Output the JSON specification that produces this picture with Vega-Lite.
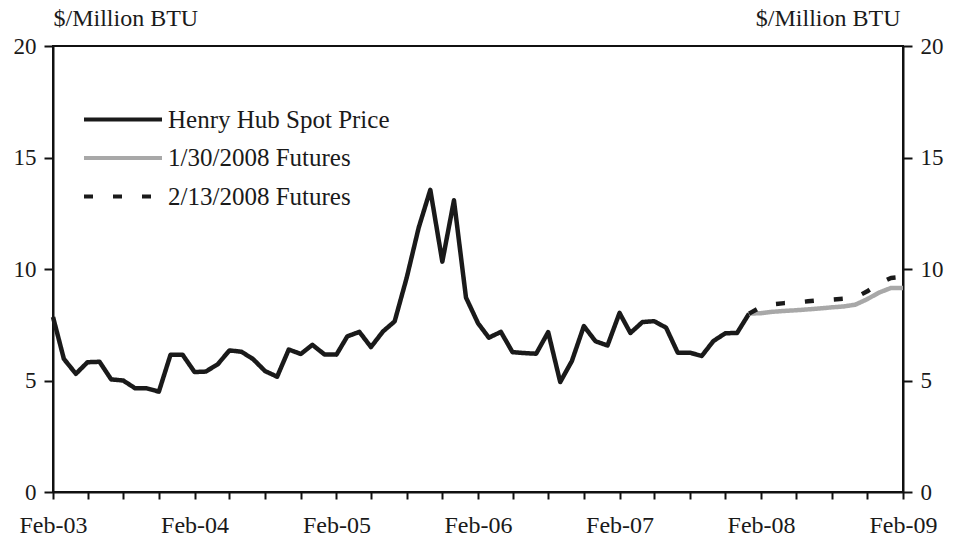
{
  "$schema": "https://vega.github.io/schema/vega-lite/v6.json",
  "width": 850,
  "height": 446,
  "autosize": "none",
  "padding": {"left": 53, "top": 46, "right": 51, "bottom": 57},
  "background": "white",
  "config": {
    "font": "Liberation Serif",
    "view": {"stroke": "#111", "strokeWidth": 2},
    "axis": {"labelColor": "#1a1a1a", "titleColor": "#1a1a1a", "domainColor": "#111", "domainWidth": 2, "tickColor": "#111", "tickWidth": 2, "grid": false, "labelFont": "Liberation Serif", "titleFont": "Liberation Serif"}
  },
  "data": {"values": [
    {"date": "2003-02-01", "series": "Henry Hub Spot Price", "price": 7.85},
    {"date": "2003-03-01", "series": "Henry Hub Spot Price", "price": 5.97},
    {"date": "2003-04-01", "series": "Henry Hub Spot Price", "price": 5.3},
    {"date": "2003-05-01", "series": "Henry Hub Spot Price", "price": 5.82},
    {"date": "2003-06-01", "series": "Henry Hub Spot Price", "price": 5.84},
    {"date": "2003-07-01", "series": "Henry Hub Spot Price", "price": 5.05},
    {"date": "2003-08-01", "series": "Henry Hub Spot Price", "price": 5.0},
    {"date": "2003-09-01", "series": "Henry Hub Spot Price", "price": 4.65},
    {"date": "2003-10-01", "series": "Henry Hub Spot Price", "price": 4.65},
    {"date": "2003-11-01", "series": "Henry Hub Spot Price", "price": 4.5},
    {"date": "2003-12-01", "series": "Henry Hub Spot Price", "price": 6.15},
    {"date": "2004-01-01", "series": "Henry Hub Spot Price", "price": 6.16},
    {"date": "2004-02-01", "series": "Henry Hub Spot Price", "price": 5.38},
    {"date": "2004-03-01", "series": "Henry Hub Spot Price", "price": 5.4},
    {"date": "2004-04-01", "series": "Henry Hub Spot Price", "price": 5.73},
    {"date": "2004-05-01", "series": "Henry Hub Spot Price", "price": 6.35},
    {"date": "2004-06-01", "series": "Henry Hub Spot Price", "price": 6.29},
    {"date": "2004-07-01", "series": "Henry Hub Spot Price", "price": 5.96},
    {"date": "2004-08-01", "series": "Henry Hub Spot Price", "price": 5.42},
    {"date": "2004-09-01", "series": "Henry Hub Spot Price", "price": 5.17},
    {"date": "2004-10-01", "series": "Henry Hub Spot Price", "price": 6.39},
    {"date": "2004-11-01", "series": "Henry Hub Spot Price", "price": 6.19},
    {"date": "2004-12-01", "series": "Henry Hub Spot Price", "price": 6.6},
    {"date": "2005-01-01", "series": "Henry Hub Spot Price", "price": 6.17},
    {"date": "2005-02-01", "series": "Henry Hub Spot Price", "price": 6.16},
    {"date": "2005-03-01", "series": "Henry Hub Spot Price", "price": 6.98},
    {"date": "2005-04-01", "series": "Henry Hub Spot Price", "price": 7.18},
    {"date": "2005-05-01", "series": "Henry Hub Spot Price", "price": 6.5},
    {"date": "2005-06-01", "series": "Henry Hub Spot Price", "price": 7.2},
    {"date": "2005-07-01", "series": "Henry Hub Spot Price", "price": 7.65},
    {"date": "2005-08-01", "series": "Henry Hub Spot Price", "price": 9.6},
    {"date": "2005-09-01", "series": "Henry Hub Spot Price", "price": 11.85},
    {"date": "2005-10-01", "series": "Henry Hub Spot Price", "price": 13.55},
    {"date": "2005-11-01", "series": "Henry Hub Spot Price", "price": 10.33},
    {"date": "2005-12-01", "series": "Henry Hub Spot Price", "price": 13.08},
    {"date": "2006-01-01", "series": "Henry Hub Spot Price", "price": 8.72},
    {"date": "2006-02-01", "series": "Henry Hub Spot Price", "price": 7.57},
    {"date": "2006-03-01", "series": "Henry Hub Spot Price", "price": 6.92},
    {"date": "2006-04-01", "series": "Henry Hub Spot Price", "price": 7.18},
    {"date": "2006-05-01", "series": "Henry Hub Spot Price", "price": 6.27},
    {"date": "2006-06-01", "series": "Henry Hub Spot Price", "price": 6.23},
    {"date": "2006-07-01", "series": "Henry Hub Spot Price", "price": 6.2},
    {"date": "2006-08-01", "series": "Henry Hub Spot Price", "price": 7.17},
    {"date": "2006-09-01", "series": "Henry Hub Spot Price", "price": 4.93},
    {"date": "2006-10-01", "series": "Henry Hub Spot Price", "price": 5.87},
    {"date": "2006-11-01", "series": "Henry Hub Spot Price", "price": 7.44},
    {"date": "2006-12-01", "series": "Henry Hub Spot Price", "price": 6.76},
    {"date": "2007-01-01", "series": "Henry Hub Spot Price", "price": 6.57},
    {"date": "2007-02-01", "series": "Henry Hub Spot Price", "price": 8.03},
    {"date": "2007-03-01", "series": "Henry Hub Spot Price", "price": 7.13},
    {"date": "2007-04-01", "series": "Henry Hub Spot Price", "price": 7.62},
    {"date": "2007-05-01", "series": "Henry Hub Spot Price", "price": 7.66},
    {"date": "2007-06-01", "series": "Henry Hub Spot Price", "price": 7.37},
    {"date": "2007-07-01", "series": "Henry Hub Spot Price", "price": 6.25},
    {"date": "2007-08-01", "series": "Henry Hub Spot Price", "price": 6.25},
    {"date": "2007-09-01", "series": "Henry Hub Spot Price", "price": 6.1},
    {"date": "2007-10-01", "series": "Henry Hub Spot Price", "price": 6.77},
    {"date": "2007-11-01", "series": "Henry Hub Spot Price", "price": 7.12},
    {"date": "2007-12-01", "series": "Henry Hub Spot Price", "price": 7.13},
    {"date": "2008-01-01", "series": "Henry Hub Spot Price", "price": 8.0},
    {"date": "2008-01-01", "series": "1/30/2008 Futures", "price": 8.0},
    {"date": "2008-02-01", "series": "1/30/2008 Futures", "price": 8.02},
    {"date": "2008-03-01", "series": "1/30/2008 Futures", "price": 8.08},
    {"date": "2008-04-01", "series": "1/30/2008 Futures", "price": 8.12},
    {"date": "2008-05-01", "series": "1/30/2008 Futures", "price": 8.15},
    {"date": "2008-06-01", "series": "1/30/2008 Futures", "price": 8.19},
    {"date": "2008-07-01", "series": "1/30/2008 Futures", "price": 8.23},
    {"date": "2008-08-01", "series": "1/30/2008 Futures", "price": 8.28},
    {"date": "2008-09-01", "series": "1/30/2008 Futures", "price": 8.32},
    {"date": "2008-10-01", "series": "1/30/2008 Futures", "price": 8.4},
    {"date": "2008-11-01", "series": "1/30/2008 Futures", "price": 8.65},
    {"date": "2008-12-01", "series": "1/30/2008 Futures", "price": 8.94},
    {"date": "2009-01-01", "series": "1/30/2008 Futures", "price": 9.15},
    {"date": "2009-02-01", "series": "1/30/2008 Futures", "price": 9.15},
    {"date": "2008-01-01", "series": "2/13/2008 Futures", "price": 8.0},
    {"date": "2008-02-01", "series": "2/13/2008 Futures", "price": 8.3},
    {"date": "2008-03-01", "series": "2/13/2008 Futures", "price": 8.42},
    {"date": "2008-04-01", "series": "2/13/2008 Futures", "price": 8.47},
    {"date": "2008-05-01", "series": "2/13/2008 Futures", "price": 8.5},
    {"date": "2008-06-01", "series": "2/13/2008 Futures", "price": 8.55},
    {"date": "2008-07-01", "series": "2/13/2008 Futures", "price": 8.6},
    {"date": "2008-08-01", "series": "2/13/2008 Futures", "price": 8.63},
    {"date": "2008-09-01", "series": "2/13/2008 Futures", "price": 8.67},
    {"date": "2008-10-01", "series": "2/13/2008 Futures", "price": 8.72},
    {"date": "2008-11-01", "series": "2/13/2008 Futures", "price": 9.0},
    {"date": "2008-12-01", "series": "2/13/2008 Futures", "price": 9.35},
    {"date": "2009-01-01", "series": "2/13/2008 Futures", "price": 9.6},
    {"date": "2009-02-01", "series": "2/13/2008 Futures", "price": 9.65}
  ]},
  "encoding": {
    "x": {
      "field": "date", "type": "temporal",
      "scale": {"type": "utc", "domain": [{"year": 2003, "month": 2, "date": 1, "utc": true}, {"year": 2009, "month": 2, "date": 1, "utc": true}]},
      "axis": {
        "title": null,
        "values": [
          {"year": 2003, "month": 2, "date": 1, "utc": true}, {"year": 2003, "month": 5, "date": 1, "utc": true}, {"year": 2003, "month": 8, "date": 1, "utc": true}, {"year": 2003, "month": 11, "date": 1, "utc": true},
          {"year": 2004, "month": 2, "date": 1, "utc": true}, {"year": 2004, "month": 5, "date": 1, "utc": true}, {"year": 2004, "month": 8, "date": 1, "utc": true}, {"year": 2004, "month": 11, "date": 1, "utc": true},
          {"year": 2005, "month": 2, "date": 1, "utc": true}, {"year": 2005, "month": 5, "date": 1, "utc": true}, {"year": 2005, "month": 8, "date": 1, "utc": true}, {"year": 2005, "month": 11, "date": 1, "utc": true},
          {"year": 2006, "month": 2, "date": 1, "utc": true}, {"year": 2006, "month": 5, "date": 1, "utc": true}, {"year": 2006, "month": 8, "date": 1, "utc": true}, {"year": 2006, "month": 11, "date": 1, "utc": true},
          {"year": 2007, "month": 2, "date": 1, "utc": true}, {"year": 2007, "month": 5, "date": 1, "utc": true}, {"year": 2007, "month": 8, "date": 1, "utc": true}, {"year": 2007, "month": 11, "date": 1, "utc": true},
          {"year": 2008, "month": 2, "date": 1, "utc": true}, {"year": 2008, "month": 5, "date": 1, "utc": true}, {"year": 2008, "month": 8, "date": 1, "utc": true}, {"year": 2008, "month": 11, "date": 1, "utc": true},
          {"year": 2009, "month": 2, "date": 1, "utc": true}
        ],
        "labelExpr": "utcmonth(datum.value) == 1 ? utcFormat(datum.value, '%b-%y') : ''",
        "labelFontSize": 24,
        "labelPadding": 14,
        "tickSize": 7,
        "labelFlush": false,
        "labelOverlap": false
      }
    }
  },
  "layer": [
    {
      "mark": {"type": "line", "strokeWidth": 4.5, "strokeCap": "butt", "strokeJoin": "round"},
      "encoding": {
        "y": {
          "field": "price", "type": "quantitative",
          "scale": {"domain": [0, 20], "nice": false},
          "axis": {
            "orient": "left", "values": [0, 5, 10, 15, 20], "tickSize": 9, "labelFontSize": 23, "labelPadding": 8,
            "title": "$/Million BTU", "titleAngle": 0, "titleFontSize": 24, "titleFontWeight": "normal",
            "titleAlign": "left", "titleBaseline": "middle", "titleX": 0, "titleY": -28
          }
        },
        "color": {
          "field": "series", "type": "nominal",
          "scale": {"domain": ["Henry Hub Spot Price", "1/30/2008 Futures", "2/13/2008 Futures"], "range": ["#1a1a1a", "#a8a8a8", "#1a1a1a"]},
          "legend": {
            "title": null, "orient": "none", "legendX": 29, "legendY": 61,
            "symbolType": "stroke", "symbolSize": 6084, "symbolStrokeWidth": 4,
            "labelFontSize": 25, "labelColor": "#1a1a1a", "labelOffset": 4, "labelLimit": 500, "clipHeight": 25, "rowPadding": 12.5, "labelFont": "Liberation Serif"
          }
        },
        "strokeDash": {
          "field": "series", "type": "nominal",
          "scale": {"domain": ["Henry Hub Spot Price", "1/30/2008 Futures", "2/13/2008 Futures"], "range": [[1, 0], [1, 0], [9, 20]]},
          "legend": {
            "title": null, "orient": "none", "legendX": 29, "legendY": 61,
            "symbolType": "stroke", "symbolSize": 6084, "symbolStrokeWidth": 4,
            "labelFontSize": 25, "labelColor": "#1a1a1a", "labelOffset": 4, "labelLimit": 500, "clipHeight": 25, "rowPadding": 12.5, "labelFont": "Liberation Serif"
          }
        }
      }
    },
    {
      "mark": {"type": "line", "strokeOpacity": 0},
      "encoding": {
        "y": {
          "field": "price", "type": "quantitative",
          "scale": {"domain": [0, 20], "nice": false},
          "axis": {
            "orient": "right", "values": [0, 5, 10, 15, 20], "tickSize": 9, "labelFontSize": 23, "labelPadding": 8,
            "title": "$/Million BTU", "titleAngle": 0, "titleFontSize": 24, "titleFontWeight": "normal",
            "titleAlign": "right", "titleBaseline": "middle", "titleX": -3, "titleY": -28
          }
        }
      }
    }
  ],
  "resolve": {"scale": {"y": "independent"}}
}
